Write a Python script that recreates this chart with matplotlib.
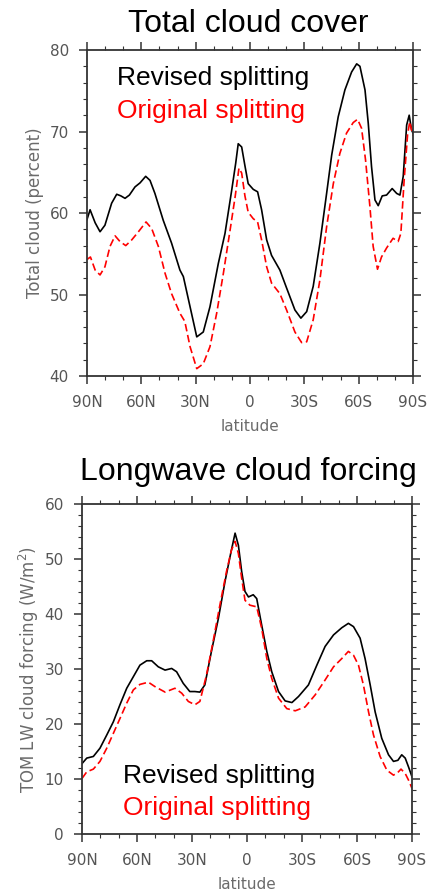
import matplotlib
matplotlib.use("Agg")
import matplotlib.pyplot as plt
from matplotlib.ticker import MultipleLocator, FixedLocator, FixedFormatter

# ---------------- data ----------------
# Panel 1: Total cloud cover (percent)
tcc_rev_lat = [90, 88.3, 85.5, 82.8, 80.1, 76.4, 73.6, 71.3, 69.0, 66.6, 63.5, 60.7, 57.6, 55.2,
               52.5, 47.9, 43.3, 38.7, 36.8, 33.1, 29.4, 25.8, 22.1, 17.5, 13.8, 10.1, 7.9, 6.5,
               4.6, 2.8, 1.0, -1.8, -4.2, -6.4, -9.2, -11.9, -16.5, -20.2, -24.8, -28.1, -31.3,
               -34.9, -38.6, -42.3, -45.1, -48.7, -52.4, -56.1, -58.9, -60.7, -63.5, -65.3,
               -67.1, -69.0, -70.8, -73.0, -75.4, -78.5, -81.0, -82.8, -84.6, -86.5, -87.9,
               -89.2, -90]
tcc_rev = [59.2, 60.4, 58.8, 57.7, 58.5, 61.2, 62.3, 62.1, 61.8, 62.2, 63.2, 63.7, 64.5, 64.0,
           62.4, 59.1, 56.3, 53.0, 52.2, 48.5, 44.8, 45.4, 48.5, 53.8, 57.5, 62.8, 66.1, 68.5,
           68.1, 65.8, 63.6, 62.9, 62.6, 60.4, 56.7, 54.8, 53.0, 50.8, 48.1, 47.1, 47.9,
           51.0, 56.3, 62.4, 67.1, 71.8, 75.1, 77.3, 78.3, 78.0, 75.1, 71.0,
           65.7, 61.6, 60.9, 62.1, 62.2, 63.0, 62.4, 62.2, 64.5, 70.8, 72.0,
           70.2, 69.8]

tcc_orig_lat = [90, 88.1, 85.5, 82.8, 80.1, 77.3, 74.5, 71.8, 68.6, 65.3, 61.6, 57.4, 54.3, 50.6,
                46.9, 43.3, 38.7, 36.0, 33.1, 29.4, 25.8, 22.1, 18.4, 14.7, 11.0, 8.2, 6.1, 4.6,
                2.8, 1.0, -1.8, -4.2, -6.4, -9.2, -11.9, -16.5, -20.2, -24.8, -28.5, -31.3,
                -34.9, -38.6, -42.3, -46.0, -49.6, -53.3, -57.0, -59.4, -61.6, -63.8, -66.2,
                -68.0, -70.4, -72.6, -75.4, -79.0, -81.8, -83.3, -85.1, -87.0, -88.2, -89.2, -90]
tcc_orig = [54.3, 54.6, 53.0, 52.4, 53.4, 55.9, 57.2, 56.5, 56.0, 56.7, 57.7, 58.9, 58.1, 55.9,
            52.6, 50.1, 47.7, 46.7, 43.6, 40.9, 41.5, 43.6, 47.7, 52.6, 57.9, 62.0, 65.5, 64.9,
            62.1, 60.1, 59.3, 58.9, 56.7, 53.4, 51.4, 50.1, 48.1, 45.4, 44.1, 44.2,
            46.9, 51.8, 58.3, 63.6, 67.3, 69.8, 71.1, 71.5, 70.4, 66.5, 60.8,
            55.9, 53.1, 54.6, 55.7, 56.9, 56.5, 57.5, 64.0, 69.6, 71.2, 70.2, 69.5]

# Panel 2: TOM LW cloud forcing (W/m2)
lwcf_rev_lat = [90, 87.4, 83.8, 80.2, 76.5, 72.9, 69.3, 65.6, 62.0, 58.4, 54.7, 52.0, 48.4, 44.7,
                41.1, 38.4, 34.8, 31.2, 28.4, 25.7, 23.0, 19.4, 15.6, 12.0, 8.9, 6.5, 4.7, 2.9,
                1.1, -0.8, -3.4, -5.3, -8.0, -10.8, -13.5, -17.2, -20.8, -24.5, -28.1, -33.5,
                -38.1, -42.6, -47.2, -51.7, -55.3, -58.1, -61.7, -64.4, -67.2, -69.9, -73.5,
                -77.2, -79.9, -82.3, -84.4, -86.3, -88.1, -90]
lwcf_rev = [12.8, 13.8, 14.1, 15.6, 18.0, 20.4, 23.5, 26.5, 28.6, 30.7, 31.5, 31.5, 30.4, 29.8,
            30.1, 29.5, 27.4, 25.9, 25.9, 25.8, 27.1, 33.2, 39.2, 45.9, 51.0, 54.7, 52.5, 47.7,
            44.1, 43.1, 43.5, 42.8, 38.0, 33.2, 29.5, 25.9, 24.2, 23.9, 25.0, 27.1,
            30.7, 34.1, 36.2, 37.5, 38.3, 37.7, 35.6, 31.9, 27.1, 22.2, 17.4,
            14.4, 13.2, 13.4, 14.4, 13.8, 12.2, 10.4]

lwcf_orig_lat = [90, 87.4, 83.8, 80.2, 76.5, 72.9, 69.3, 65.6, 62.0, 58.4, 53.8, 50.2, 44.7, 39.3,
                 35.6, 32.0, 28.4, 25.7, 22.1, 18.5, 14.8, 11.2, 8.5, 6.5, 4.7, 2.9, 1.1, -1.6,
                 -5.3, -8.0, -10.8, -13.5, -17.2, -21.7, -26.3, -31.7, -37.2, -42.6, -47.2,
                 -51.7, -55.3, -58.1, -60.8, -63.5, -66.3, -69.0, -72.6, -76.3, -79.9, -82.3,
                 -84.0, -86.3, -88.1, -90]
lwcf_orig = [10.1, 11.3, 11.8, 13.2, 15.6, 18.3, 21.0, 23.8, 26.2, 27.2, 27.6, 26.8, 25.8, 26.5,
             25.6, 24.1, 23.5, 24.1, 28.9, 35.0, 41.6, 47.7, 51.6, 53.2, 51.0, 46.5, 42.5, 41.6,
             41.3, 37.4, 31.9, 28.3, 24.7, 22.8, 22.4, 23.1, 25.3, 28.0, 30.4,
             31.9, 33.2, 32.5, 30.7, 27.1, 22.2, 18.0, 14.1, 11.6, 10.7, 11.2,
             11.8, 11.0, 9.8, 8.3]

lat_ticks = [90, 60, 30, 0, -30, -60, -90]
lat_labels = ["90N", "60N", "30N", "0", "30S", "60S", "90S"]
titles = ["Total cloud cover", "Longwave cloud forcing"]
ylabels = ["Total cloud (percent)", "TOM LW cloud forcing (W/m$^2$)"]
legend_names = ["Revised splitting", "Original splitting"]

# ---------------- styling ----------------
W, H = 436, 891
fig = plt.figure(figsize=(W / 100, H / 100), dpi=100)

TICK_COL = "#555555"
LAB_COL = "#6b6b6b"
AX_COL = "#333333"
TITLE_FONT = ["Liberation Sans", "DejaVu Sans"]


def px_axes(l, r, t, b):
    return fig.add_axes([l / W, 1 - b / H, (r - l) / W, (b - t) / H])


def style(ax, ylim, ylabel):
    ax.set_xlim(90, -90)
    ax.set_ylim(*ylim)
    ax.xaxis.set_major_locator(FixedLocator(lat_ticks))
    ax.xaxis.set_major_formatter(FixedFormatter(lat_labels))
    ax.xaxis.set_minor_locator(MultipleLocator(10))
    ax.yaxis.set_major_locator(MultipleLocator(10))
    ax.yaxis.set_minor_locator(MultipleLocator(2))
    ax.tick_params(which="both", direction="out", top=True, right=True,
                   labeltop=False, labelright=False, color=AX_COL)
    ax.tick_params(which="major", length=6, width=1.1, labelsize=11,
                   labelcolor=TICK_COL)
    ax.tick_params(axis="x", which="major", pad=8)
    ax.tick_params(axis="y", which="major", pad=7)
    ax.tick_params(which="minor", length=3, width=0.8)
    for s in ax.spines.values():
        s.set_color(AX_COL)
        s.set_linewidth(1.3)
    ax.set_xlabel("latitude", fontsize=11, color=LAB_COL, labelpad=6)
    ax.set_ylabel(ylabel, fontsize=12, color=LAB_COL)
    ax.yaxis.set_label_coords(-0.16, 0.5)
    ax.yaxis.label.set_va("center")


dash = (0, (4.5, 2.2))

# Panel 1
ax1 = px_axes(87, 413, 50, 376)
ax1.plot(tcc_rev_lat, tcc_rev, color="black", lw=1.2)
ax1.plot(tcc_orig_lat, tcc_orig, color="red", lw=1.2, linestyle=dash)
style(ax1, (40, 80), ylabels[0])
ax1.text(0.092, 0.893, legend_names[0], transform=ax1.transAxes, color="black",
         fontsize=19, family=TITLE_FONT, va="baseline", ha="left")
ax1.text(0.092, 0.791, legend_names[1], transform=ax1.transAxes, color="red",
         fontsize=19, family=TITLE_FONT, va="baseline", ha="left")
fig.text(0.570, 1 - 32 / H, titles[0], fontsize=23, family=TITLE_FONT,
         ha="center", va="baseline")

# Panel 2
ax2 = px_axes(82, 412, 504, 834)
ax2.plot(lwcf_rev_lat, lwcf_rev, color="black", lw=1.2)
ax2.plot(lwcf_orig_lat, lwcf_orig, color="red", lw=1.2, linestyle=dash)
style(ax2, (0, 60), ylabels[1])
ax2.text(0.124, 0.1545, legend_names[0], transform=ax2.transAxes, color="black",
         fontsize=19, family=TITLE_FONT, va="baseline", ha="left")
ax2.text(0.124, 0.0576, legend_names[1], transform=ax2.transAxes, color="red",
         fontsize=19, family=TITLE_FONT, va="baseline", ha="left")
fig.text(0.570, 1 - 480 / H, titles[1], fontsize=23, family=TITLE_FONT,
         ha="center", va="baseline")

fig.savefig("out.png", dpi=100)
